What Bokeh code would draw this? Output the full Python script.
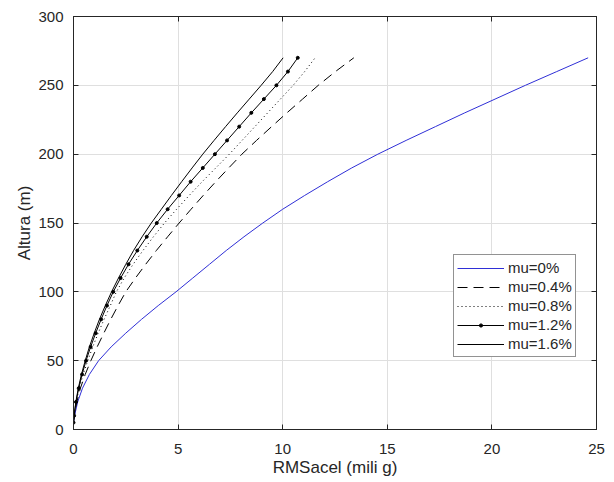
from bokeh.plotting import figure
from bokeh.models import Range1d, FixedTicker, LinearAxis, Legend, LegendItem
from bokeh.embed import file_html
from bokeh.resources import INLINE

# Heights (m) at which RMS acceleration was read
heights = [5, 10, 20, 30, 40, 50, 60, 70, 80, 90, 100, 110, 120, 130, 140, 150,
           160, 170, 180, 190, 200, 210, 220, 230, 240, 250, 260, 270]

# RMS acceleration (mili g) for each damping ratio
mu_0 = [0, 0.05, 0.2, 0.43, 0.76, 1.2, 1.8, 2.5, 3.25, 4.05, 4.9, 5.7, 6.5, 7.3,
        8.15, 9.05, 10.0, 11.05, 12.15, 13.3, 14.55, 15.9, 17.3, 18.7, 20.15,
        21.6, 23.1, 24.6]
mu_04 = [0, 0.04, 0.16, 0.33, 0.56, 0.83, 1.13, 1.45, 1.78, 2.13, 2.5, 2.96,
         3.45, 3.96, 4.5, 5.05, 5.62, 6.2, 6.8, 7.42, 8.05, 8.75, 9.47, 10.2,
         10.95, 11.7, 12.52, 13.4]
mu_08 = [0, 0.03, 0.13, 0.27, 0.46, 0.68, 0.92, 1.18, 1.46, 1.76, 2.05, 2.42,
         2.85, 3.32, 3.82, 4.35, 4.93, 5.53, 6.15, 6.8, 7.45, 8.06, 8.67, 9.28,
         9.89, 10.5, 11.05, 11.55]
mu_12 = [0, 0.03, 0.12, 0.25, 0.41, 0.6, 0.82, 1.06, 1.32, 1.6, 1.9, 2.25, 2.63,
         3.05, 3.5, 3.98, 4.5, 5.05, 5.6, 6.18, 6.76, 7.34, 7.92, 8.5, 9.1, 9.7,
         10.25, 10.72]
mu_16 = [0, 0.03, 0.11, 0.23, 0.38, 0.56, 0.76, 0.99, 1.24, 1.52, 1.82, 2.15,
         2.5, 2.87, 3.28, 3.72, 4.2, 4.68, 5.17, 5.67, 6.18, 6.72, 7.27, 7.83,
         8.4, 8.97, 9.52, 10.02]

labels = ["mu=0%", "mu=0.4%", "mu=0.8%", "mu=1.2%", "mu=1.6%"]
x_ticks = [0, 5, 10, 15, 20, 25]
y_ticks = [0, 50, 100, 150, 200, 250, 300]

FONT = "Liberation Sans"
TXT = "#262626"

p = figure(width=614, height=482, output_backend="svg", toolbar_location=None,
           x_range=Range1d(0, 25), y_range=Range1d(0, 300),
           min_border_left=73, min_border_right=18, min_border_top=16,
           min_border_bottom=53)

p.outline_line_color = TXT
p.outline_line_width = 1
p.background_fill_color = "white"
p.border_fill_color = "white"

for ax in (p.xaxis[0], p.yaxis[0]):
    ax.major_label_text_font = FONT
    ax.major_label_text_font_size = "15px"
    ax.major_label_text_color = TXT
    ax.axis_label_text_font = FONT
    ax.axis_label_text_font_size = "17px"
    ax.axis_label_text_font_style = "normal"
    ax.axis_label_text_color = TXT
    ax.axis_line_color = TXT
    ax.major_tick_line_color = TXT
    ax.major_tick_in = 5
    ax.major_tick_out = 0
    ax.minor_tick_line_color = None

p.xaxis[0].ticker = FixedTicker(ticks=x_ticks)
p.yaxis[0].ticker = FixedTicker(ticks=y_ticks)
p.xaxis[0].axis_label = "RMSacel (mili g)"
p.yaxis[0].axis_label = "Altura (m)"
p.xaxis[0].major_label_standoff = 14
p.xaxis[0].axis_label_standoff = 1
p.yaxis[0].major_label_standoff = 10
p.yaxis[0].axis_label_standoff = 1

# mirrored ticks on top and right (box on), no labels
for loc, tk in (("above", x_ticks), ("right", y_ticks)):
    a = LinearAxis(ticker=FixedTicker(ticks=tk))
    a.major_label_text_font_size = "1px"
    a.major_label_text_color = None
    a.major_label_standoff = 0
    a.major_tick_in = 5
    a.major_tick_out = 0
    a.minor_tick_line_color = None
    a.axis_line_color = TXT
    a.major_tick_line_color = TXT
    p.add_layout(a, loc)

p.xgrid.ticker = FixedTicker(ticks=x_ticks)
p.ygrid.ticker = FixedTicker(ticks=y_ticks)
p.grid.grid_line_color = "#dfdfdf"
p.grid.grid_line_width = 1

r0 = p.line(mu_0, heights, line_color="#2f2fd6", line_width=1)
r1 = p.line(mu_04, heights, line_color="black", line_width=1, line_dash="10 6")
r2 = p.line(mu_08, heights, line_color="black", line_width=1, line_dash="1 3")
r3 = p.line(mu_12, heights, line_color="black", line_width=1)
r3m = p.scatter(mu_12, heights, size=3, color="black")
r4 = p.line(mu_16, heights, line_color="black", line_width=1)

legend = Legend(items=[
    LegendItem(label=labels[0], renderers=[r0]),
    LegendItem(label=labels[1], renderers=[r1]),
    LegendItem(label=labels[2], renderers=[r2]),
    LegendItem(label=labels[3], renderers=[r3, r3m]),
    LegendItem(label=labels[4], renderers=[r4]),
], location=(380, 72))
legend.label_text_font = FONT
legend.label_text_font_size = "15px"
legend.label_text_color = TXT
legend.glyph_width = 47
legend.glyph_height = 8
legend.label_height = 19
legend.spacing = 0
legend.padding = 3
legend.margin = 0
legend.label_standoff = 4
legend.border_line_color = TXT
legend.border_line_width = 1
legend.background_fill_color = "white"
legend.background_fill_alpha = 1
p.add_layout(legend, "center")

open("out.html", "w").write(file_html(p, INLINE))
